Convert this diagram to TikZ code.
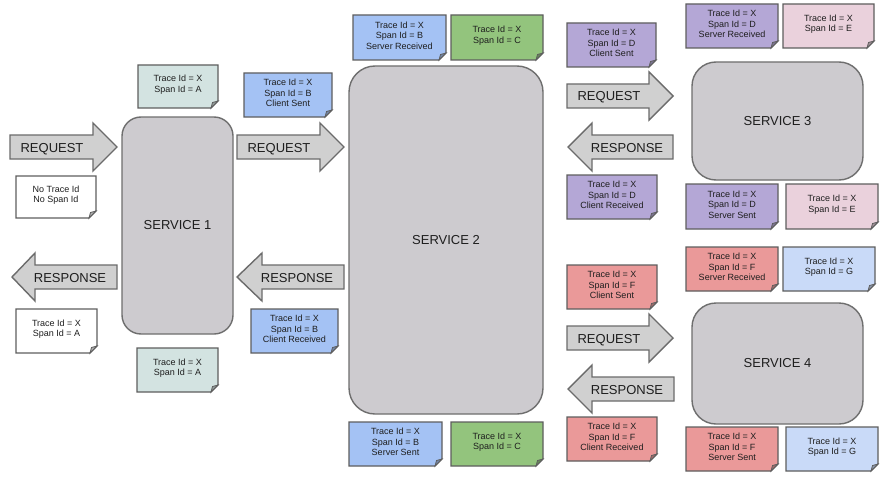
\documentclass[tikz,border=0pt]{standalone}
\usepackage{fontspec}
\setmainfont{Liberation Sans}
\usetikzlibrary{backgrounds}
\definecolor{svcfill}{HTML}{CDCBCF}
\definecolor{svcline}{HTML}{6E6E6E}
\definecolor{arrfill}{HTML}{D0D0D0}
\definecolor{arrline}{HTML}{6B6B6B}
\definecolor{noteline}{HTML}{5E5E5E}
\definecolor{cteal}{HTML}{D3E3E1}
\definecolor{cwhite}{HTML}{FFFFFF}
\definecolor{cblue}{HTML}{A4C2F4}
\definecolor{cgreen}{HTML}{93C47D}
\definecolor{cpurple}{HTML}{B4A7D6}
\definecolor{cpink}{HTML}{EAD1DC}
\definecolor{cred}{HTML}{EA9999}
\definecolor{clblue}{HTML}{C9DAF8}
\definecolor{txt}{HTML}{1E1E1E}
\tikzset{
  service/.style={draw=svcline, line width=1.4pt, fill=svcfill, text=txt,
    font=\fontsize{13}{15}\selectfont, inner sep=0pt},
  blockarrow/.style={draw=arrline, line width=1.4pt, fill=arrfill, line join=miter},
  arrowtext/.style={text=txt, font=\fontsize{13}{15}\selectfont, inner sep=0pt, anchor=base},
  notebox/.style={draw=noteline, line width=1.3pt, line join=miter},
  notefold/.style={draw=noteline, line width=0.8pt},
  notetext/.style={text=txt, font=\fontsize{9}{10.5}\selectfont, align=center, inner sep=0pt}
}
% name, x1, y1, x2, y2, colour, text
\newcommand\stickynote[7]{%
  \filldraw[notebox, fill=#6] (#2,#3) -- (#4,#3) -- (#4,#5-7) -- (#4-7,#5) -- (#2,#5) -- cycle;
  \filldraw[notefold, fill=#6!70!black] (#4,#5-7) -- (#4-7,#5) -- (#4-5.5,#5-5.5) -- cycle;
  \node[notetext] (#1) at ({(#2+#4)/2},{(#3+#5)/2-2}) {#7};
}
% name, x left, x head base, x tip, y centre, text x, text
\newcommand\rightblock[7]{%
  \coordinate (#1-tip) at (#4,#5);
  \filldraw[blockarrow] (#2,#5-12) -- (#3,#5-12) -- (#3,#5-24) -- (#1-tip) -- (#3,#5+24) -- (#3,#5+12) -- (#2,#5+12) -- cycle;
  \node[arrowtext] (#1) at (#6,#5+5) {#7};
}
% name, x tip, x head base, x right, y centre, text x, text
\newcommand\leftblock[7]{%
  \coordinate (#1-tip) at (#2,#5);
  \filldraw[blockarrow] (#4,#5-12) -- (#3,#5-12) -- (#3,#5-24) -- (#1-tip) -- (#3,#5+24) -- (#3,#5+12) -- (#4,#5+12) -- cycle;
  \node[arrowtext] (#1) at (#6,#5+5) {#7};
}
\begin{document}
\begin{tikzpicture}[x=1pt,y=-1pt]
\useasboundingbox[fill=white] (0,0) rectangle (890,476);

% services
\node[service, rounded corners=19pt, minimum width=111pt, minimum height=217pt] (s1) at (177.5,225.5) {SERVICE 1};
\node[service, rounded corners=26pt, minimum width=194pt, minimum height=348pt] (s2) at (446,240) {SERVICE 2};
\node[service, rounded corners=24pt, minimum width=171pt, minimum height=118pt] (s3) at (777.5,121) {SERVICE 3};
\node[service, rounded corners=24pt, minimum width=171pt, minimum height=121pt] (s4) at (777.5,363.5) {SERVICE 4};

% block arrows
\rightblock{req1}{10}{93}{117}{147}{52}{REQUEST}
\leftblock{res1}{12}{35}{117}{277}{70}{RESPONSE}
\rightblock{req2}{237}{320}{344}{147}{279}{REQUEST}
\leftblock{res2}{237}{262}{344}{277}{297}{RESPONSE}
\rightblock{req3}{567}{649}{673}{96}{609}{REQUEST}
\leftblock{res3}{568}{592}{673}{147}{627}{RESPONSE}
\rightblock{req4}{567}{649}{673}{338}{609}{REQUEST}
\leftblock{res4}{568}{592}{674}{389}{627}{RESPONSE}

% notes
\stickynote{nA1}{138}{65}{218}{108}{cteal}{Trace Id = X\\Span Id = A}
\stickynote{nNo}{16}{176}{96}{218}{cwhite}{No Trace Id\\No Span Id}
\stickynote{nA2}{16}{309}{97}{353}{cwhite}{Trace Id = X\\Span Id = A}
\stickynote{nA3}{137}{348}{218}{392}{cteal}{Trace Id = X\\Span Id = A}
\stickynote{nBcs}{244}{73}{332}{117}{cblue}{Trace Id = X\\Span Id = B\\Client Sent}
\stickynote{nBcr}{251}{309}{338}{353}{cblue}{Trace Id = X\\Span Id = B\\Client Received}
\stickynote{nBsr}{353}{15}{446}{60}{cblue}{Trace Id = X\\Span Id = B\\Server Received}
\stickynote{nC1}{451}{15}{543}{60}{cgreen}{Trace Id = X\\Span Id = C}
\stickynote{nBss}{349}{422}{442}{466}{cblue}{Trace Id = X\\Span Id = B\\Server Sent}
\stickynote{nC2}{451}{422}{543}{466}{cgreen}{Trace Id = X\\Span Id = C}
\stickynote{nDcs}{567}{23}{656}{67}{cpurple}{Trace Id = X\\Span Id = D\\Client Sent}
\stickynote{nDsr}{686}{4}{778}{48}{cpurple}{Trace Id = X\\Span Id = D\\Server Received}
\stickynote{nE1}{783}{4}{874}{48}{cpink}{Trace Id = X\\Span Id = E}
\stickynote{nDcr}{567}{175}{657}{219}{cpurple}{Trace Id = X\\Span Id = D\\Client Received}
\stickynote{nDss}{686}{184}{778}{229}{cpurple}{Trace Id = X\\Span Id = D\\Server Sent}
\stickynote{nE2}{786}{184}{878}{229}{cpink}{Trace Id = X\\Span Id = E}
\stickynote{nFsr}{686}{247}{778}{291}{cred}{Trace Id = X\\Span Id = F\\Server Received}
\stickynote{nG1}{783}{247}{875}{291}{clblue}{Trace Id = X\\Span Id = G}
\stickynote{nFcs}{567}{265}{657}{309}{cred}{Trace Id = X\\Span Id = F\\Client Sent}
\stickynote{nFcr}{567}{417}{657}{461}{cred}{Trace Id = X\\Span Id = F\\Client Received}
\stickynote{nFss}{686}{427}{778}{471}{cred}{Trace Id = X\\Span Id = F\\Server Sent}
\stickynote{nG2}{786}{427}{878}{471}{clblue}{Trace Id = X\\Span Id = G}
\end{tikzpicture}
\end{document}
